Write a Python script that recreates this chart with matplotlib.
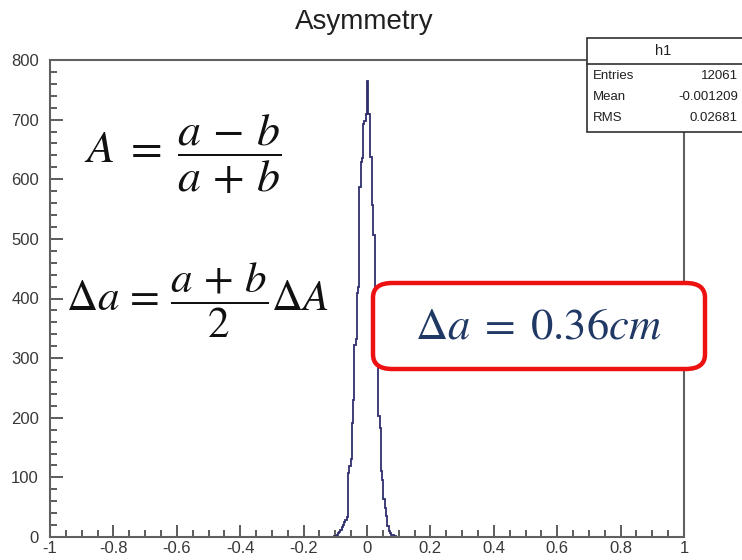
import numpy as np
import matplotlib
matplotlib.use("Agg")
import matplotlib.pyplot as plt
from matplotlib.patches import FancyBboxPatch, Rectangle
from matplotlib.ticker import MultipleLocator

plt.rcParams['font.family'] = ['Liberation Sans', 'DejaVu Sans']
plt.rcParams['mathtext.fontset'] = 'stix'

# histogram: bins of 0.004 from -0.104 to 0.092
bin_lo = -0.104
bin_w = 0.004
counts = [1, 2, 4, 6, 8, 12, 16, 20, 25, 29, 34,
          107, 119, 131, 192, 230, 322, 332, 409, 420,
          587, 629, 636, 693, 698, 710, 764,
          710, 638, 638, 556, 507, 404, 314, 306, 203, 183,
          110, 95, 64, 48, 36, 18, 10, 6, 4, 3, 2, 1]
edges = bin_lo + bin_w * np.arange(len(counts) + 1)

x_ticks = [-1, -0.8, -0.6, -0.4, -0.2, 0, 0.2, 0.4, 0.6, 0.8, 1]
x_tick_labels = ['-1', '-0.8', '-0.6', '-0.4', '-0.2', '0',
                 '0.2', '0.4', '0.6', '0.8', '1']

stat_names = ['Entries', 'Mean', 'RMS']
stat_values = ['12061', '-0.001209', '0.02681']

W, H = 742, 560
fig = plt.figure(figsize=(W / 100, H / 100), dpi=100)


def fx(px):
    return px / W


def fy(py):
    return 1 - py / H


ax = fig.add_axes([fx(50), fy(537), fx(684) - fx(50), fy(60) - fy(537)])
ax.stairs(counts, edges, color='#2e2e6e', lw=1.3)
ax.set_xlim(-1, 1)
ax.set_ylim(0, 800)

ax.xaxis.set_minor_locator(MultipleLocator(0.05))
ax.yaxis.set_major_locator(MultipleLocator(100))
ax.yaxis.set_minor_locator(MultipleLocator(20))
ax.set_xticks(x_ticks)
ax.set_xticklabels(x_tick_labels)
ax.tick_params(which='both', direction='in', color='#303030', width=1.1,
               labelcolor='#383838', labelsize=12)
ax.tick_params(which='major', length=9)
ax.tick_params(which='minor', length=5)
ax.tick_params(axis='x', pad=3)
ax.tick_params(axis='y', pad=8)
for s in ax.spines.values():
    s.set_color('#606060')
    s.set_linewidth(1.5)

fig.text(fx(364), fy(22), 'Asymmetry', ha='center', va='center',
         fontsize=20, color='#202020')

# stats box
fig.patches.append(Rectangle((fx(587), fy(132)), fx(760) - fx(587), fy(38) - fy(132),
                             transform=fig.transFigure, fc='white', ec='#303030',
                             lw=1.2, zorder=5))
fig.add_artist(plt.Line2D([fx(587), fx(742)], [fy(64), fy(64)], color='#303030',
                          lw=1.2, zorder=6))
fig.text(fx(663), fy(51), 'h1', ha='center', va='center', fontsize=10.5,
         color='#202020', zorder=7)
for i, (n, v) in enumerate(zip(stat_names, stat_values)):
    y = fy(76 + 21 * i)
    fig.text(fx(593), y, n, ha='left', va='center', fontsize=9.5,
             color='#202020', zorder=7)
    fig.text(fx(738), y, v, ha='right', va='center', fontsize=9.5,
             color='#202020', zorder=7)

# formulas
fig.text(fx(84), fy(154), r'$A \;=\; \dfrac{a \,-\, b}{a \,+\, b}$', ha='left',
         va='center', fontsize=33, color='#111111')
fig.text(fx(66), fy(300), r'$\Delta a \,=\, \dfrac{a \,+\, b}{2}\Delta A$',
         ha='left', va='center', fontsize=31, color='#111111')

box = FancyBboxPatch((fx(373), fy(369)), fx(705) - fx(373), fy(283) - fy(369),
                     boxstyle='round,pad=0,rounding_size=0.026',
                     transform=fig.transFigure, fc='white', ec='#ee1111', lw=3.2,
                     zorder=4)
fig.patches.append(box)
fig.text(fx(538), fy(327), r'$\Delta a \;=\; 0.36cm$', ha='center', va='center',
         fontsize=32, color='#1f3864', zorder=5)

fig.savefig('out.png', dpi=100)
